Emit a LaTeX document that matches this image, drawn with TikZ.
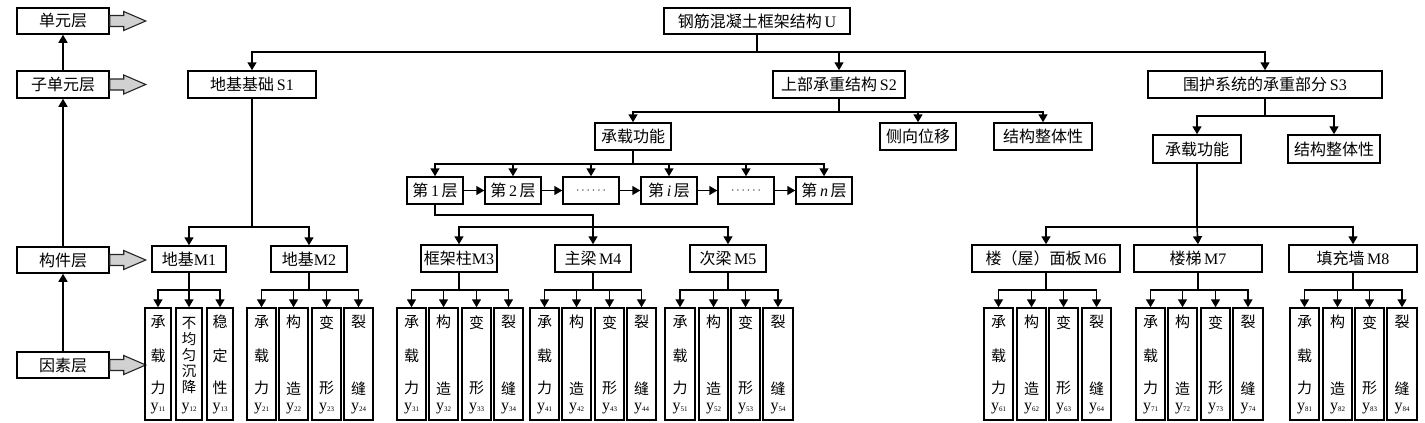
\documentclass[tikz,border=0pt]{standalone}
\usepackage{fontspec}
\setmainfont{Liberation Serif}
\newfontfamily\cjk{Noto Sans CJK SC}
\usetikzlibrary{arrows.meta}

\tikzset{
  bx/.style={draw, line width=1.5pt, inner sep=0pt, font=\fontsize{16}{18}\selectfont},
  arr/.style={line width=1.6pt, -{Triangle[length=8pt,width=9pt]}},
  ln/.style={line width=1.6pt},
  blk/.style={draw=black!85, fill=black!18, line width=1.1pt, line join=miter},
  ch/.style={inner sep=0pt, font=\cjk\fontsize{15}{16}\selectfont},
  chs/.style={inner sep=0pt, font=\cjk\fontsize{14.5}{15}\selectfont},
  sb/.style={inner sep=0pt, font=\fontsize{16}{16}\selectfont},
}

\newcommand\bx[6]{\node[bx, minimum width={(#4-#2)*1pt}, minimum height={(#5-#3)*1pt}] (#1) at ({(#2+#4)/2},{(#3+#5)/2}) {#6};}
\newcommand\ysub[1]{y\raisebox{-1.5pt}{\fontsize{7}{7}\selectfont #1}}
% three characters
\newcommand\fthr[7]{\bx{#1}{#2}{308}{#3}{420}{}%
  \node[ch] (#1a) at ([yshift=-15pt]#1.north) {#4};
  \node[ch] (#1b) at ([yshift=-49pt]#1.north) {#5};
  \node[ch] (#1c) at ([yshift=-81pt]#1.north) {#6};
  \node[sb] (#1s) at ([yshift=-101pt]#1.north) {\ysub{#7}};}
% two characters
\newcommand\ftwo[6]{\bx{#1}{#2}{308}{#3}{420}{}%
  \node[ch] (#1a) at ([yshift=-15pt]#1.north) {#4};
  \node[ch] (#1c) at ([yshift=-81pt]#1.north) {#5};
  \node[sb] (#1s) at ([yshift=-101pt]#1.north) {\ysub{#6}};}
% five characters
\newcommand\ffive[9]{\bx{#1}{#2}{308}{#3}{420}{}%
  \node[chs] (#1a) at ([yshift=-16pt]#1.north) {#4};
  \node[chs] (#1b) at ([yshift=-32pt]#1.north) {#5};
  \node[chs] (#1c) at ([yshift=-48pt]#1.north) {#6};
  \node[chs] (#1d) at ([yshift=-64pt]#1.north) {#7};
  \node[chs] (#1e) at ([yshift=-80pt]#1.north) {#8};
  \node[sb] (#1s) at ([yshift=-101pt]#1.north) {\ysub{#9}};}

\begin{document}
\begin{tikzpicture}[x=1pt,y=-1pt]
\fill[white] (0,0) rectangle (1425,423);
\useasboundingbox (0,0) rectangle (1425,423);

% ---- left layer column
\bx{l1}{17}{8}{109}{34}{\cjk 单元层}
\bx{l2}{17}{71}{109}{98}{\cjk 子单元层}
\bx{l3}{17}{247}{109}{273}{\cjk 构件层}
\bx{l4}{17}{352}{109}{378}{\cjk 因素层}
\draw[arr] (l4.north) -- (l3.south);
\draw[arr] (l3.north) -- (l2.south);
\draw[arr] (l2.north) -- (l1.south);
\foreach \n in {l1,l2,l3,l4}{
  \draw[blk] (\n.east) ++(0,-5.5) -- ++(14,0) -- ++(0,-4) -- ++(22,9.5) -- ++(-22,9.5) -- ++(0,-4) -- ++(-14,0) -- cycle;
}

% ---- top levels
\bx{U}{664}{8}{850}{34}{{\cjk 钢筋混凝土框架结构}\,U}
\bx{S1}{188}{71}{316}{98}{{\cjk 地基基础}\,S1}
\bx{S2}{773}{71}{905}{98}{{\cjk 上部承重结构}\,S2}
\bx{S3}{1148}{71}{1382}{98}{{\cjk 围护系统的承重部分}\,S3}
\draw[ln] (U.south) -- (U.south |- 0,52);
\draw[arr] (U.south |- 0,52) -| (S1.north);
\draw[arr] (U.south |- 0,52) -| (S2.north);
\draw[arr] (U.south |- 0,52) -| (S3.north);

% ---- S2 children
\bx{c2}{595}{123}{671}{150}{\cjk 承载功能}
\bx{side}{880}{123}{956}{150}{\cjk 侧向位移}
\bx{int2}{994}{123}{1092}{150}{\cjk 结构整体性}
\draw[ln] (S2.south) -- (S2.south |- 0,112);
\draw[arr] (S2.south |- 0,112) -| (c2.north);
\draw[arr] (S2.south |- 0,112) -| (side.north);
\draw[arr] (S2.south |- 0,112) -| (int2.north);

% ---- S3 children
\bx{c3}{1153}{135}{1241}{163}{\cjk 承载功能}
\bx{int3}{1288}{135}{1380}{163}{\cjk 结构整体性}
\draw[ln] (S3.south) -- (S3.south |- 0,116);
\draw[arr] (S3.south |- 0,116) -| (c3.north);
\draw[arr] (S3.south |- 0,116) -| (int3.north);

% ---- storeys
\bx{L1}{407}{177}{463}{204}{{\cjk 第}\,1\,{\cjk 层}}
\bx{L2}{485}{177}{541}{204}{{\cjk 第}\,2\,{\cjk 层}}
\bx{D1}{563}{177}{619}{204}{\fontsize{13}{13}\selectfont $\cdots\cdots$}
\bx{Li}{641}{177}{697}{204}{{\cjk 第}\,\textit{i}\,{\cjk 层}}
\bx{D2}{718}{177}{774}{204}{\fontsize{13}{13}\selectfont $\cdots\cdots$}
\bx{Ln}{796}{177}{852}{204}{{\cjk 第}\,\textit{n}\,{\cjk 层}}
\draw[ln] (c2.south) -- (c2.south |- 0,164);
\foreach \n in {L1,L2,D1,Li,D2,Ln}{\draw[arr] (c2.south |- 0,164) -| (\n.north);}
\draw[arr] (L1) -- (L2);
\draw[arr] (L2) -- (D1);
\draw[arr] (D1) -- (Li);
\draw[arr] (Li) -- (D2);
\draw[arr] (D2) -- (Ln);

% ---- members
\bx{M1}{152}{246}{226}{272}{{\cjk 地基}M1}
\bx{M2}{271}{246}{347}{272}{{\cjk 地基}M2}
\bx{M3}{421}{245}{497}{272}{{\cjk 框架柱}M3}
\bx{M4}{555}{245}{631}{272}{{\cjk 主梁}\,M4}
\bx{M5}{690}{245}{766}{272}{{\cjk 次梁}\,M5}
\bx{M6}{972}{245}{1120}{272}{{\cjk 楼（屋）面板}\,M6}
\bx{M7}{1134}{245}{1262}{272}{{\cjk 楼梯}\,M7}
\bx{M8}{1289}{245}{1417}{272}{{\cjk 填充墙}\,M8}

\draw[ln] (S1.south) -- (S1.south |- 0,227);
\draw[arr] (S1.south |- 0,227) -| (M1.north);
\draw[arr] (S1.south |- 0,227) -| (M2.north);

\draw[ln] (L1.south) -- (L1.south |- 0,215) -- (M4.north |- 0,215) -- (M4.north |- 0,227);
\draw[arr] (M4.north |- 0,227) -| (M3.north);
\draw[arr] (M4.north |- 0,227) -- (M4.north);
\draw[arr] (M4.north |- 0,227) -| (M5.north);

\draw[ln] (c3.south) -- (c3.south |- 0,227);
\draw[arr] (c3.south |- 0,227) -| (M6.north);
\draw[arr] (c3.south |- 0,227) -- (M7.north);
\draw[arr] (c3.south |- 0,227) -| (M8.north);

% ---- factors
\fthr{f11}{145}{171}{承}{载}{力}{11}
\ffive{f12}{176}{202}{不}{均}{匀}{沉}{降}{12}
\fthr{f13}{207}{233}{稳}{定}{性}{13}

\fthr{f21}{247}{276}{承}{载}{力}{21}
\ftwo{f22}{279}{308}{构}{造}{22}
\ftwo{f23}{312}{341}{变}{形}{23}
\ftwo{f24}{344}{373}{裂}{缝}{24}

\fthr{f31}{397}{426}{承}{载}{力}{31}
\ftwo{f32}{429}{458}{构}{造}{32}
\ftwo{f33}{462}{491}{变}{形}{33}
\ftwo{f34}{494}{523}{裂}{缝}{34}

\fthr{f41}{530}{559}{承}{载}{力}{41}
\ftwo{f42}{562}{591}{构}{造}{42}
\ftwo{f43}{595}{624}{变}{形}{43}
\ftwo{f44}{627}{656}{裂}{缝}{44}

\fthr{f51}{665}{695}{承}{载}{力}{51}
\ftwo{f52}{699}{728}{构}{造}{52}
\ftwo{f53}{731}{760}{变}{形}{53}
\ftwo{f54}{763}{793}{裂}{缝}{54}

\fthr{f61}{984}{1013}{承}{载}{力}{61}
\ftwo{f62}{1017}{1046}{构}{造}{62}
\ftwo{f63}{1049}{1078}{变}{形}{63}
\ftwo{f64}{1082}{1111}{裂}{缝}{64}

\fthr{f71}{1136}{1165}{承}{载}{力}{71}
\ftwo{f72}{1168}{1197}{构}{造}{72}
\ftwo{f73}{1201}{1230}{变}{形}{73}
\ftwo{f74}{1233}{1263}{裂}{缝}{74}

\fthr{f81}{1290}{1319}{承}{载}{力}{81}
\ftwo{f82}{1323}{1352}{构}{造}{82}
\ftwo{f83}{1355}{1384}{变}{形}{83}
\ftwo{f84}{1387}{1417}{裂}{缝}{84}

% member -> factor buses
\draw[ln] (M1.south) -- (M1.south |- 0,290);
\foreach \f in {f11,f12,f13}{\draw[arr] (M1.south |- 0,290) -| (\f.north);}
\foreach \m/\a/\b/\c/\d in {M2/f21/f22/f23/f24, M3/f31/f32/f33/f34, M4/f41/f42/f43/f44, M5/f51/f52/f53/f54, M6/f61/f62/f63/f64, M7/f71/f72/f73/f74, M8/f81/f82/f83/f84}{
  \draw[ln] (\m.south) -- (\m.south |- 0,290);
  \foreach \f in {\a,\b,\c,\d}{\draw[arr] (\m.south |- 0,290) -| (\f.north);}
}
\end{tikzpicture}
\end{document}
